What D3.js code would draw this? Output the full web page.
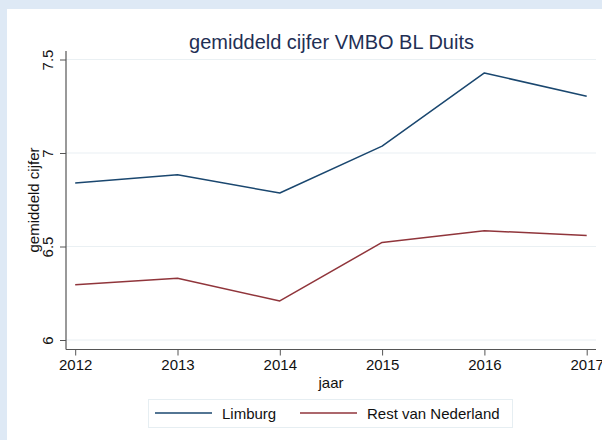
<!DOCTYPE html>
<html>
<head>
<meta charset="utf-8">
<script src="https://cdn.jsdelivr.net/npm/d3@7"></script>
<style>
  html, body { margin: 0; padding: 0; background: #dee9f5; }
  svg { display: block; font-family: Arial, "Liberation Sans", sans-serif; }
</style>
</head>
<body>
<svg id="chart" width="602" height="440"></svg>
<script>
const years = [2012, 2013, 2014, 2015, 2016, 2017];
const limburg = [6.84, 6.884, 6.786, 7.037, 7.428, 7.303];
const restNL = [6.295, 6.330, 6.209, 6.522, 6.584, 6.559];
const yTicks = [6, 6.5, 7, 7.5];
const seriesNames = ["Limburg", "Rest van Nederland"];
const seriesColors = ["#1a476f", "#90353b"];
const titleText = "gemiddeld cijfer VMBO BL Duits";
const xTitle = "jaar";
const yTitle = "gemiddeld cijfer";

const svg = d3.select("#chart");
svg.append("rect").attr("x", 0).attr("y", 0).attr("width", 602).attr("height", 440).attr("fill", "#dee9f5");
svg.append("rect").attr("x", 7).attr("y", 9).attr("width", 595).attr("height", 431).attr("fill", "#ffffff");

const plot = { left: 66, right: 596, top: 51, bottom: 349.5 };
const x = d3.scaleLinear().domain([2012, 2017]).range([75.2, 586.7]);
const y = d3.scaleLinear().domain([6, 7.5]).range([340, 59.5]);

// gridlines
svg.append("g").selectAll("line").data(yTicks).join("line")
  .attr("x1", plot.left).attr("x2", plot.right)
  .attr("y1", d => y(d)).attr("y2", d => y(d))
  .attr("stroke", "#eaf0f3").attr("stroke-width", 1.2);

// y axis
const yAxis = svg.append("g").attr("transform", `translate(${plot.left},0)`)
  .call(d3.axisLeft(y).tickValues(yTicks).tickSize(6).tickFormat(d3.format("")));
yAxis.select(".domain").remove();
yAxis.selectAll(".tick line").attr("stroke", "#555");
yAxis.selectAll(".tick text")
  .attr("x", null).attr("dy", null)
  .attr("transform", "translate(-13,0) rotate(-90)")
  .attr("text-anchor", "middle")
  .attr("font-size", 15).attr("fill", "#111");
svg.append("line").attr("x1", plot.left).attr("x2", plot.left)
  .attr("y1", plot.top).attr("y2", plot.bottom).attr("stroke", "#555").attr("stroke-width", 1.2);

// x axis
const xAxis = svg.append("g").attr("transform", `translate(0,${plot.bottom})`)
  .call(d3.axisBottom(x).tickValues(years).tickSize(6).tickFormat(d3.format("d")));
xAxis.select(".domain").remove();
xAxis.selectAll(".tick line").attr("stroke", "#555");
xAxis.selectAll(".tick text").attr("y", 10).attr("dy", "0.71em")
  .attr("font-size", 15).attr("fill", "#111");
svg.append("line").attr("x1", plot.left).attr("x2", plot.right)
  .attr("y1", plot.bottom).attr("y2", plot.bottom).attr("stroke", "#555").attr("stroke-width", 1.2);

// lines
const line = d3.line().x((d, i) => x(years[i])).y(d => y(d));
[limburg, restNL].forEach((s, i) => {
  svg.append("path").datum(s).attr("d", line)
    .attr("fill", "none").attr("stroke", seriesColors[i]).attr("stroke-width", 1.5)
    .attr("stroke-linejoin", "round");
});

// titles
svg.append("text").attr("x", 331.5).attr("y", 49).attr("text-anchor", "middle")
  .attr("font-size", 20).attr("fill", "#1f2f55").text(titleText);
svg.append("text").attr("x", 331).attr("y", 388).attr("text-anchor", "middle")
  .attr("font-size", 15).attr("fill", "#111").text(xTitle);
svg.append("text").attr("transform", "translate(39,200) rotate(-90)").attr("text-anchor", "middle")
  .attr("font-size", 15).attr("fill", "#111").text(yTitle);

// legend
const lg = svg.append("g");
lg.append("rect").attr("x", 148.5).attr("y", 399.5).attr("width", 364).attr("height", 28)
  .attr("fill", "#fff").attr("stroke", "#e6eef2").attr("stroke-width", 1);
const legendItems = [
  { x1: 155, x2: 212, tx: 222 },
  { x1: 300, x2: 357, tx: 367 }
];
legendItems.forEach((it, i) => {
  lg.append("line").attr("x1", it.x1).attr("x2", it.x2).attr("y1", 413).attr("y2", 413)
    .attr("stroke", seriesColors[i]).attr("stroke-width", 1.5);
  lg.append("text").attr("x", it.tx).attr("y", 418.5).attr("font-size", 15).attr("fill", "#111")
    .text(seriesNames[i]);
});
</script>
</body>
</html>
